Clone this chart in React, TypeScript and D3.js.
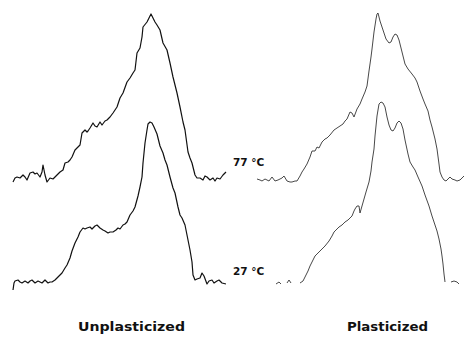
import React from 'react';
import * as d3 from 'd3';

// spectra: [field (arb. units), intensity (arb. units)]
// null intensity = break in the recorded trace
type Pt = [number, number | null];

const unplast77: Pt[] = [
  [0, -3], [2, 1], [4, 2], [7, 1], [10, 4], [12, 2], [14, -1], [17, 6], [20, 7], [22, 5],
  [24, 6], [27, 2], [29, 7], [30, 14], [32, 4], [34, -3], [37, 1], [40, 0], [44, 4], [47, 7],
  [50, 9], [52, 16], [55, 17], [57, 19], [59, 22], [62, 29], [65, 32], [67, 34], [69, 46],
  [72, 49], [74, 47], [75, 48], [77, 51], [80, 56], [82, 53], [84, 52], [87, 57], [89, 54],
  [92, 58], [94, 59], [97, 62], [100, 66], [104, 72], [107, 81], [110, 86], [114, 97],
  [117, 101], [120, 106], [122, 109], [124, 126], [127, 131], [129, 142], [130, 152],
  [134, 157], [136, 161], [138, 165], [140, 161], [142, 157], [144, 154], [147, 149],
  [150, 136], [154, 129], [157, 116], [160, 102], [164, 86], [167, 72], [170, 57], [172, 49],
  [175, 27], [177, 21], [179, 16], [182, 4], [184, 1], [187, 1], [190, -1], [192, 3],
  [194, 2], [197, -1], [200, 1], [202, -2], [204, 1], [207, 0], [210, 4], [213, 7],
];

const unplast27: Pt[] = [
  [0, -7], [1, 0], [2, 2], [5, 3], [7, 1], [9, 0], [12, 2], [15, 0], [17, 2], [19, 3],
  [22, 0], [25, 2], [27, 1], [29, 0], [32, 3], [35, 0], [37, 1], [39, 1], [42, 3], [44, 5],
  [47, 8], [49, 10], [52, 15], [54, 18], [57, 25], [59, 32], [62, 40], [65, 46], [67, 51],
  [70, 55], [72, 54], [74, 55], [77, 56], [79, 54], [82, 57], [84, 58], [87, 55], [90, 53],
  [92, 52], [95, 50], [97, 51], [100, 51], [103, 53], [105, 55], [107, 54], [110, 58],
  [112, 59], [114, 61], [117, 68], [120, 72], [122, 76], [125, 87], [127, 96], [129, 106],
  [130, 120], [132, 140], [134, 153], [135, 159], [137, 161], [139, 160], [141, 156],
  [144, 149], [147, 137], [150, 130], [152, 123], [154, 118], [157, 106], [160, 95],
  [162, 90], [165, 76], [167, 68], [169, 65], [172, 58], [175, 43], [177, 33], [179, 21],
  [180, 8], [182, 3], [184, 4], [187, 5], [189, 10], [191, 7], [194, -1], [196, 2], [199, 3],
  [201, 0], [204, 2], [206, 3], [209, 0], [213, -1],
];

const plast77: Pt[] = [
  [4, 0], [7, -1], [9, -2], [12, 0], [14, -1], [16, -2], [19, 2], [22, -2], [25, -1], [27, 0],
  [29, 1], [31, 3], [34, -2], [37, -3], [39, -3], [42, -2], [44, -2], [47, 3], [49, 7],
  [51, 10], [54, 15], [57, 22], [59, 28], [62, 28], [64, 32], [66, 31], [69, 37], [72, 40],
  [74, 41], [77, 44], [81, 49], [84, 51], [87, 53], [90, 55], [92, 58], [94, 60], [97, 67],
  [99, 66], [101, 62], [104, 70], [107, 75], [109, 80], [112, 87], [114, 93], [116, 108],
  [118, 122], [119, 130], [121, 147], [123, 160], [124, 165], [125, 166], [127, 158],
  [129, 152], [131, 146], [133, 140], [136, 136], [138, 137], [140, 142], [142, 145],
  [144, 144], [146, 139], [149, 127], [152, 115], [155, 110], [159, 105], [162, 101],
  [164, 97], [167, 88], [170, 80], [172, 75], [175, 68], [177, 59], [179, 52], [182, 40],
  [184, 30], [186, 15], [187, 7], [189, 2], [191, -1], [193, -2], [195, 0], [197, 2],
  [199, 0], [202, -1], [204, -2], [207, -1], [209, 1], [211, 3],
];

const plast27: Pt[] = [
  [23, -1], [26, 1], [28, -1], [30, null], [34, 0], [36, 3], [38, 0], [42, null],
  [47, 0], [50, 2], [52, 6], [55, 12], [57, 17], [60, 23], [62, 27], [65, 30], [69, 34],
  [72, 37], [76, 42], [79, 47], [81, 51], [84, 54], [86, 56], [89, 58], [92, 61], [95, 63],
  [99, 67], [101, 72], [102, 74], [104, 77], [106, 77], [107, 70], [109, 77], [111, 84],
  [113, 91], [116, 101], [118, 112], [119, 121], [121, 134], [122, 147], [124, 167],
  [126, 179], [128, 181], [130, 180], [132, 176], [134, 166], [136, 158], [138, 153],
  [140, 152], [142, 155], [144, 160], [146, 162], [148, 160], [150, 154], [152, 143],
  [155, 129], [157, 121], [160, 116], [162, 113], [165, 106], [169, 97], [172, 88],
  [176, 77], [179, 67], [181, 61], [184, 52], [186, 44], [188, 34], [189, 27], [190, 19],
  [191, 9], [192, 1], [195, null], [198, 1], [201, 2], [204, 1], [206, -1],
];

const panelLabels = ['Unplasticized', 'Plasticized'];
const tempLabels = ['77 °C', '27 °C'];

const width = 464;
const height = 337;

export default function App() {
  const xLeft = d3.scaleLinear().domain([0, 214]).range([13, 227]);
  const xRight = d3.scaleLinear().domain([0, 214]).range([253, 467]);
  const y = d3.scaleLinear().domain([0, 170]).range([0, -170]);

  const rowBase = [179, 283];

  const traces = [
    { data: unplast77, x: xLeft, row: 0, stroke: '#111', w: 1.2 },
    { data: unplast27, x: xLeft, row: 1, stroke: '#111', w: 1.2 },
    { data: plast77, x: xRight, row: 0, stroke: '#333', w: 0.9 },
    { data: plast27, x: xRight, row: 1, stroke: '#333', w: 0.9 },
  ];

  const lineFor = (x: d3.ScaleLinear<number, number>) =>
    d3.line<Pt>()
      .defined(d => d[1] !== null)
      .x(d => x(d[0]))
      .y(d => y(d[1] as number))
      .curve(d3.curveLinear);

  return (
    <svg width={width} height={height}
      style={{ position: 'fixed', left: 0, top: 0, background: '#fff' }}>
      {traces.map((t, i) => (
        <g key={i} transform={`translate(0,${rowBase[t.row]})`}>
          <path d={lineFor(t.x)(t.data) || ''} fill="none" stroke={t.stroke}
            strokeWidth={t.w} strokeLinejoin="round" />
        </g>
      ))}
      {tempLabels.map((l, i) => (
        <text key={l} x={233} y={[166, 275][i]} fontFamily="DejaVu Sans" fontWeight="bold"
          fontSize={10.5} fill="#111">{l}</text>
      ))}
      {panelLabels.map((l, i) => (
        <text key={l} x={[131.5, 387.5][i]} y={331} textAnchor="middle"
          fontFamily="DejaVu Sans" fontWeight="bold" fontSize={12.5} fill="#111"
          textLength={[107, 81][i]} lengthAdjust="spacingAndGlyphs">{l}</text>
      ))}
    </svg>
  );
}
